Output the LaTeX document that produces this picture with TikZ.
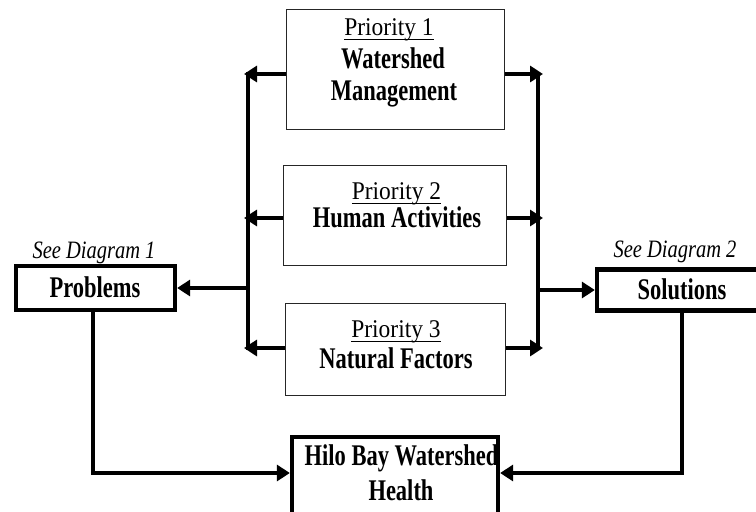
\documentclass[tikz,border=0pt]{standalone}
\usepackage{fontspec}
\setmainfont{Liberation Serif}
\newfontfamily\rmcond[FakeStretch=0.92]{Liberation Serif}
\newfontfamily\boldcond[FakeStretch=0.75]{Liberation Serif}
\newfontfamily\itcond[FakeStretch=0.82]{Liberation Serif}
\usetikzlibrary{arrows.meta}
% underline that sits just under the baseline
\newcommand\prioline[1]{\setbox0\hbox{#1}\rlap{\rule[-5.2pt]{\wd0}{1.1pt}}\box0}
\tikzset{
  thinbox/.style={draw=black!85, line width=1.2pt, fill=white, inner sep=0pt},
  thickbox/.style={draw=black, line width=4.3pt, fill=white, inner sep=0pt},
  prio/.style={font=\rmcond\fontsize{25.5}{30}\selectfont, anchor=base, inner sep=0pt},
  heading/.style={font=\boldcond\bfseries\fontsize{30}{33}\selectfont, anchor=base, inner sep=0pt},
  note/.style={font=\itcond\itshape\fontsize{25}{30}\selectfont, anchor=base, inner sep=0pt},
  arr/.style={line width=3.8pt, -{Triangle[length=13pt,width=16pt]}},
  bus/.style={line width=3.8pt, line cap=rect},
}
\begin{document}
\begin{tikzpicture}[x=1pt, y=-1pt]
\path[use as bounding box, clip] (0,0) rectangle (756,512);

% priority boxes
\node[thinbox, minimum width=218pt, minimum height=120pt] (p1) at (395.5,69.5) {};
\node[thinbox, minimum width=223pt, minimum height=100pt] (p2) at (395,215.5) {};
\node[thinbox, minimum width=220pt, minimum height=92pt]  (p3) at (395.5,349.5) {};

% outer boxes
\node[thickbox, minimum width=159pt, minimum height=44pt] (prob) at (95.5,288) {};
\node[thickbox, minimum width=172pt, minimum height=41pt] (sol)  at (683,290) {};
\node[thickbox, minimum width=206pt, minimum height=88pt] (hilo) at (395,481) {};

% texts
\node[prio]    (p1a) at (389,35)    {\prioline{Priority 1}};
\node[heading] (p1b) at (393,68)    {Watershed};
\node[heading] (p1c) at (394,100)   {Management};
\node[prio]    (p2a) at (396.5,199) {\prioline{Priority 2}};
\node[heading] (p2b) at (397,227)   {Human Activities};
\node[prio]    (p3a) at (396,337)   {\prioline{Priority 3}};
\node[heading] (p3b) at (396,368)   {Natural Factors};
\node[note]    (n1)  at (94,258)    {See Diagram 1};
\node[heading] (t1)  at (95,297)    {Problems};
\node[note]    (n2)  at (675,257)   {See Diagram 2};
\node[heading] (t2)  at (682,299)   {Solutions};
\node[heading] (h1)  at (401.5,465) {Hilo Bay Watershed};
\node[heading] (h2)  at (401,500)   {Health};

% bus lines
\coordinate (lbtop) at (248,74);
\coordinate (lbmid) at (248,218);
\coordinate (lbbot) at (248,348);
\coordinate (rbtop) at (538,74);
\coordinate (rbmid) at (538,218);
\coordinate (rbbot) at (538,348);
\coordinate (hy) at (0,473);

\draw[bus] (lbtop) -- (lbbot);
\draw[bus] (rbtop) -- (rbbot);

% priorities feed both buses
\draw[arr] (p1.west |- lbtop) -- ([xshift=-4pt]lbtop);
\draw[arr] (p2.west |- lbmid) -- ([xshift=-4pt]lbmid);
\draw[arr] (p3.west |- lbbot) -- ([xshift=-4pt]lbbot);
\draw[arr] (p1.east |- rbtop) -- ([xshift=5pt]rbtop);
\draw[arr] (p2.east |- rbmid) -- ([xshift=5pt]rbmid);
\draw[arr] (p3.east |- rbbot) -- ([xshift=5pt]rbbot);

% buses to problems and solutions
\draw[arr] (lbtop |- prob.east) -- (prob.east);
\draw[arr] (rbtop |- sol.west) -- (sol.west);

% down to watershed health
\draw[arr] ([xshift=-2.5pt]prob.south) |- (hilo.west |- hy);
\draw[arr] ([xshift=-1pt]sol.south) |- (hilo.east |- hy);
\end{tikzpicture}
\end{document}
